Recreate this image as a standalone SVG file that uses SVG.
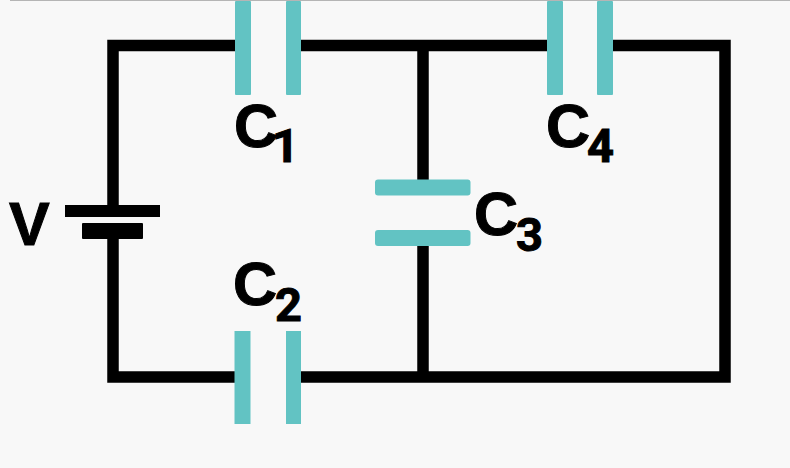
<svg xmlns="http://www.w3.org/2000/svg" width="790" height="468" viewBox="0 0 790 468">
<style>
.w{fill:none;stroke:#000;stroke-width:11.5;stroke-linecap:butt}
.p{fill:#62c3c3}
.k{fill:#000}
text{font-family:"Liberation Sans",Arial,sans-serif;font-weight:700;fill:#000;font-size:61px;stroke:#000;stroke-width:1}
.s{font-family:Roboto,"Liberation Sans",sans-serif;font-size:47px;font-weight:700}
</style>
<rect width="790" height="468" fill="#f8f8f8"/>
<rect x="10" y="0" width="780" height="1" fill="#b5b5b5"/>
<g id="connectors">
<path class="w" d="M235 45.500H113V206M113 238V377H235M301 377H725V45.500H613M547 45.500H301"/>
<path class="w" d="M423 45.500V180M423 245V377"/>
</g>
<g id="battery">
<rect class="k" x="65" y="205" width="95" height="12"/>
<rect class="k" x="82" y="223" width="61" height="16" rx="1"/>
<text x="9" y="245">V</text>
</g>
<g id="c1">
<rect class="p" x="235" y="1" width="16" height="94" rx="1"/>
<rect class="p" x="286" y="1" width="15" height="94" rx="1"/>
<text x="234" y="147">C<tspan class="s" x="272" y="162">1</tspan></text>
</g>
<g id="c2">
<rect class="p" x="234.500" y="331" width="16" height="93"/>
<rect class="p" x="286" y="331" width="15" height="93"/>
<text x="233" y="305">C<tspan class="s" x="275" y="321">2</tspan></text>
</g>
<g id="c3">
<rect class="p" x="375" y="179.500" width="95.500" height="16" rx="3"/>
<rect class="p" x="375" y="230" width="95.500" height="16" rx="3"/>
<text x="474" y="235">C<tspan class="s" x="516" y="251">3</tspan></text>
</g>
<g id="c4">
<rect class="p" x="547" y="1" width="16" height="94" rx="1"/>
<rect class="p" x="597" y="1" width="16" height="94" rx="1"/>
<text x="546" y="147">C<tspan class="s" x="587" y="162">4</tspan></text>
</g>
</svg>
